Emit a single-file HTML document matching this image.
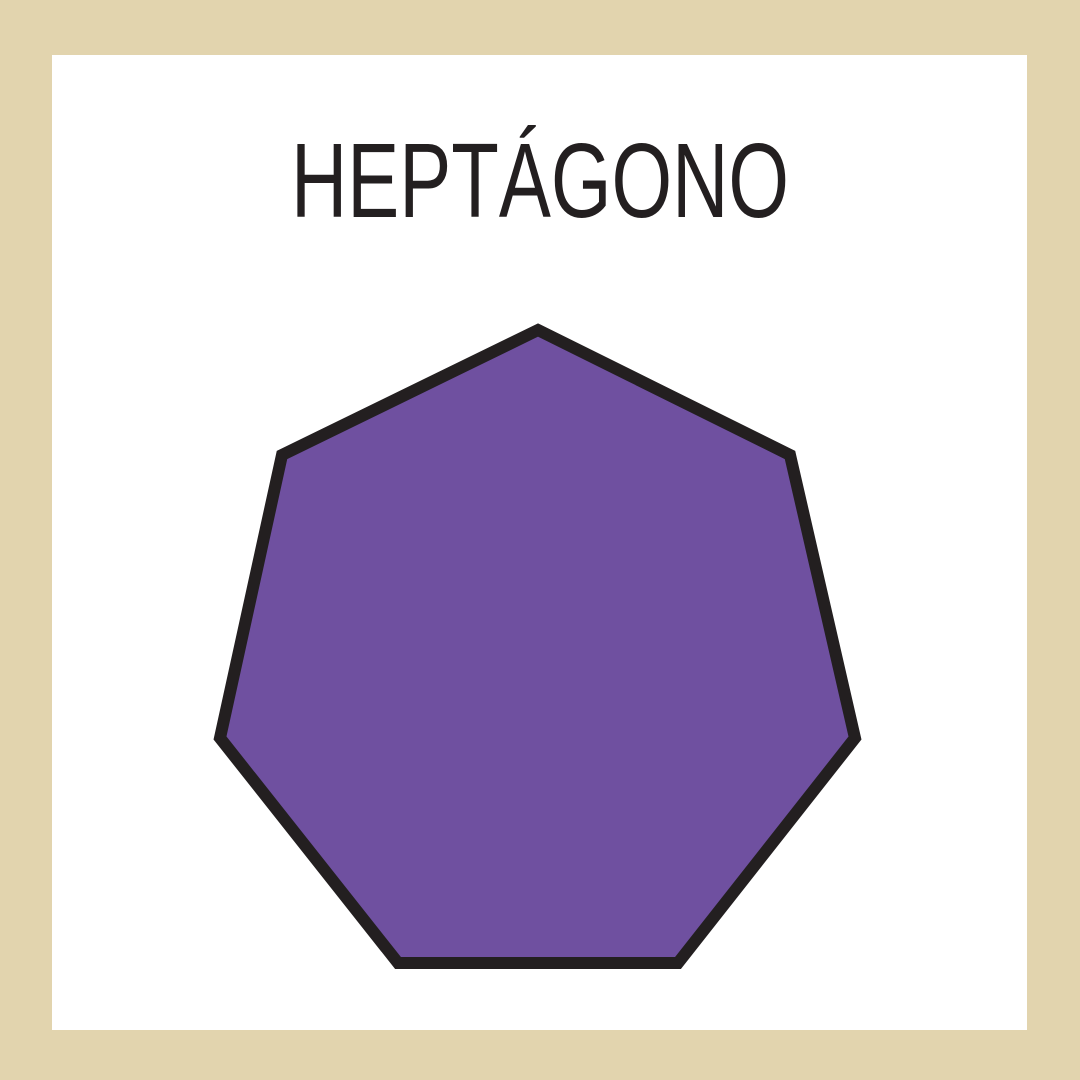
<!DOCTYPE html>
<html><head><meta charset="utf-8"><style>
html,body{margin:0;padding:0;width:1080px;height:1080px;overflow:hidden;background:#e2d4ae;}
</style></head><body>
<svg width="1080" height="1080" viewBox="0 0 1080 1080" xmlns="http://www.w3.org/2000/svg">
<rect x="0" y="0" width="1080" height="1080" fill="#e2d4ae"/>
<rect x="52" y="55" width="975" height="975" fill="#ffffff"/>
<text x="540" y="217" text-anchor="middle" font-family="'Liberation Sans', sans-serif" font-size="106" fill="#231f20" textLength="498" lengthAdjust="spacingAndGlyphs">HEPTÁGONO</text>
<polygon points="538,330 790,455 855,738 678,963 398,963 220,738 282,455" fill="#6f50a0" stroke="#231f20" stroke-width="12" stroke-linejoin="miter"/>
</svg>
</body></html>
